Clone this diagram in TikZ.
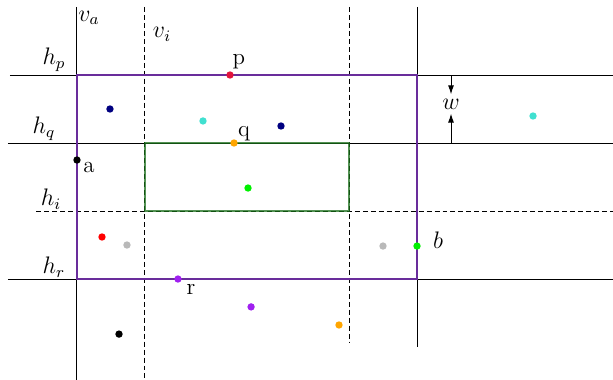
\documentclass[tikz,border=0pt]{standalone}
\usetikzlibrary{arrows.meta, positioning}
\definecolor{boxpurple}{RGB}{105,45,155}
\definecolor{boxgreen}{RGB}{25,110,25}
\definecolor{ptcrimson}{RGB}{225,20,60}
\definecolor{ptnavy}{RGB}{0,0,128}
\definecolor{ptturq}{RGB}{64,224,208}
\definecolor{ptorange}{RGB}{255,165,0}
\definecolor{ptlime}{RGB}{0,240,0}
\definecolor{ptsilver}{RGB}{185,185,185}
\definecolor{ptviolet}{RGB}{160,32,240}

\begin{document}
\begin{tikzpicture}[x=1.2cm, y=1.2cm, line width=0.5pt, every node/.style={font=\fontsize{11.5}{13}\selectfont},
    dline/.style={dash pattern=on 2.5pt off 1.5pt},
    pt/.style={circle, inner sep=0pt, minimum size=3.7pt, fill=#1}]
      \useasboundingbox (-1.132,-1.471) rectangle (7.882,4.103);
      % horizontal lines
      \draw (-0.985,3) -- (7.9,3);
      \draw (-1.015,2) -- (7.9,2);
      \draw[dline] (-0.6,1) -- (7.9,1);
      \draw (-1.015,0) -- (7.9,0);
      % vertical lines
      \draw (0,4) -- (0,-1.5);
      \draw[dline] (1,4) -- (1,-1.5);
      \draw[dline] (4,4) -- (4,-0.94);
      \draw (5,4) -- (5,-1.0);
      % windows
      \draw[boxgreen, opacity=0.75, semithick] (1,1) rectangle (4,2);
      \draw[boxpurple, line width=1pt] (0,0) rectangle (5,3);
      % line labels
      \node (va) at (0.176,3.84) {$v_a$};
      \node (vi) at (1.25,3.60) {$v_i$};
      \node (hp) at (-0.338,3.22) {$h_p$};
      \node (hq) at (-0.485,2.206) {$h_q$};
      \node (hi) at (-0.382,1.176) {$h_i$};
      \node (hr) at (-0.338,0.176) {$h_r$};
      % width
      \node[inner sep=2pt] (w) at (5.5,2.574) {$w$};
      \coordinate (wtop) at (5.5,3);
      \coordinate (wbot) at (5.5,2);
      \draw[-{Latex[length=4.5pt,width=3pt]}] (wtop) -- (w);
      \draw[-{Latex[length=4.5pt,width=3pt]}] (wbot) -- (w);
      % points
      \foreach \n/\x/\y/\c in {p/2.25/3/ptcrimson, n1/0.485/2.5/ptnavy, n2/3.0/2.25/ptnavy,
          c1/1.853/2.324/ptturq, c2/6.706/2.397/ptturq, q/2.309/2/ptorange, a/0/1.75/black,
          g1/2.515/1.338/ptlime, b/5/0.485/ptlime, r1/0.368/0.618/red, s1/0.735/0.5/ptsilver,
          s2/4.5/0.485/ptsilver, r/1.485/0/ptviolet, v1/2.56/-0.41/ptviolet,
          o1/3.853/-0.676/ptorange, k1/0.618/-0.81/black}
        \node[pt=\c] (\n) at (\x,\y) {};
      % point labels
      \node (plab) at (2.38,3.19) {p};
      \node (qlab) at (2.456,2.13) {q};
      \node (alab) at (0.176,1.647) {a};
      \node (blab) at (5.31,0.574) {$b$};
      \node (rlab) at (1.676,-0.147) {r};
    \end{tikzpicture}
\end{document}
